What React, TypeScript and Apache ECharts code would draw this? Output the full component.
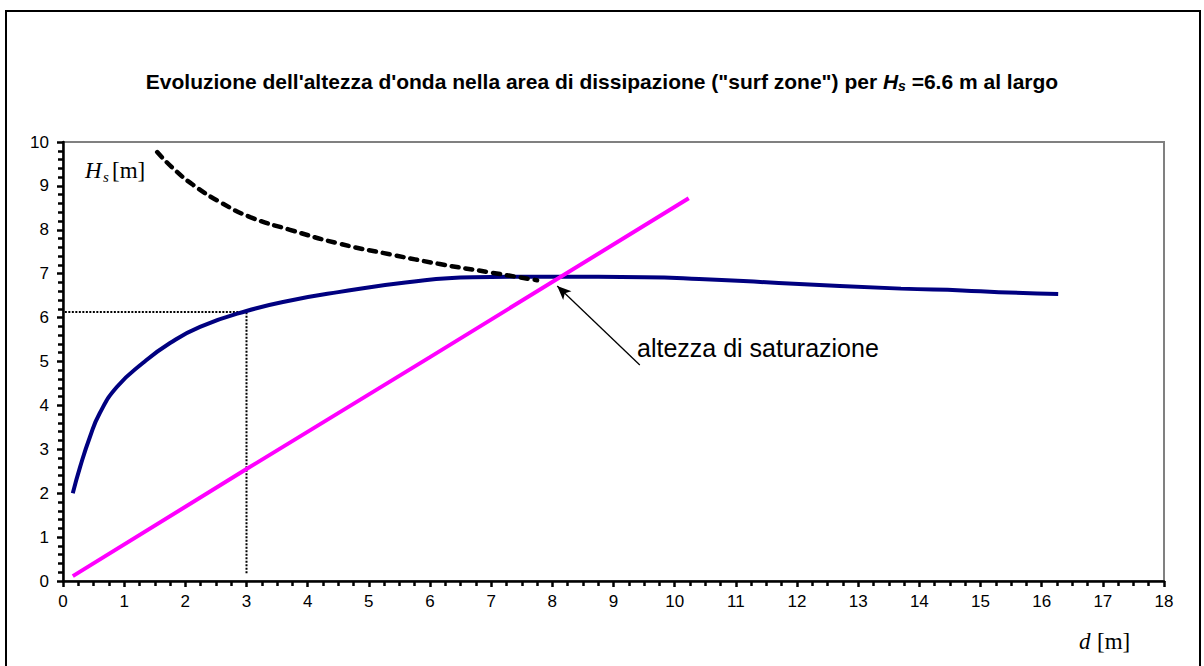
import React, { useEffect, useRef } from "react";
import * as echarts from "echarts";

// Blue curve: wave height evolution in the surf zone
const depthWave = [0.16, 0.28, 0.44, 0.6, 0.88, 1.31, 1.75, 2.24, 3.0, 3.76, 4.5, 5.6, 6.7, 8.0, 9.5, 10.4, 11.7, 13.7, 14.7, 15.3, 16.27];
const heightWave = [2.0, 2.6, 3.28, 3.82, 4.42, 4.97, 5.42, 5.79, 6.15, 6.4, 6.58, 6.8, 6.92, 6.93, 6.92, 6.88, 6.79, 6.66, 6.62, 6.58, 6.54];

// Black dashed curve
const depthDashed = [1.54, 1.8, 2.13, 2.57, 3.06, 3.71, 4.53, 5.35, 6.16, 6.98, 7.75];
const heightDashed = [9.77, 9.4, 9.02, 8.63, 8.29, 8.0, 7.68, 7.44, 7.22, 7.03, 6.85];

// Magenta line: saturation height
const depthSat = [0.16, 3.0, 6.0, 10.23];
const heightSat = [0.11, 2.55, 5.1, 8.72];

// Dotted reference lines (d = 3 m)
const depthRef = [0.03, 3.0, 3.0];
const heightRef = [6.13, 6.13, 0.16];

// Arrow pointing to saturation height
const arrowFrom = [9.43, 4.92];
const arrowTo = [8.08, 6.72];

const xTicks = { min: 0, max: 18, interval: 1 };
const yTicks = { min: 0, max: 10, interval: 1 };

const pairs = (xs: number[], ys: number[]) => xs.map((x, i) => [x, ys[i]]);

const SANS = '"Liberation Sans", Arial, sans-serif';

export default function App() {
  const ref = useRef<HTMLDivElement>(null);

  useEffect(() => {
    if (!ref.current) return;
    const chart = echarts.init(ref.current, undefined, { renderer: "svg" });
    chart.setOption({
      animation: false,
      backgroundColor: "#fff",
      title: {
        left: "center",
        top: 64,
        text: 'Evoluzione dell\'altezza d\'onda nella area di dissipazione ("surf zone") per {h|H}{s|s} =6.6 m al largo',
        textStyle: {
          fontFamily: SANS,
          fontSize: 21,
          fontWeight: "bold",
          color: "#000",
          rich: {
            h: { fontFamily: SANS, fontSize: 21, fontWeight: "bold", fontStyle: "italic", color: "#000" },
            s: { fontFamily: SANS, fontSize: 14, fontWeight: "bold", fontStyle: "italic", color: "#000", padding: [10, 0, 0, 0] },
          },
        },
      },
      grid: {
        left: 63,
        top: 142,
        right: 40,
        bottom: 85,
        show: true,
        borderColor: "#808080",
        borderWidth: 2,
        backgroundColor: "transparent",
      },
      xAxis: {
        type: "value",
        min: xTicks.min,
        max: xTicks.max,
        interval: xTicks.interval,
        axisLine: { show: true, onZero: false, lineStyle: { color: "#000", width: 2.5 } },
        axisTick: { show: true, inside: false, length: 6, lineStyle: { color: "#000", width: 2.5 } },
        minorTick: { show: true, splitNumber: 4, length: 5, lineStyle: { color: "#000", width: 2.5 } },
        splitLine: { show: false },
        axisLabel: { color: "#000", fontFamily: SANS, fontSize: 17, margin: 12 },
      },
      yAxis: {
        type: "value",
        min: yTicks.min,
        max: yTicks.max,
        interval: yTicks.interval,
        axisLine: { show: true, onZero: false, lineStyle: { color: "#000", width: 2.5 } },
        axisTick: { show: true, inside: false, length: 6, lineStyle: { color: "#000", width: 2.5 } },
        minorTick: { show: true, splitNumber: 5, length: 5, lineStyle: { color: "#000", width: 2.5 } },
        splitLine: { show: false },
        axisLabel: { color: "#000", fontFamily: SANS, fontSize: 17, margin: 14 },
      },
      series: [
        {
          type: "line",
          data: pairs(depthRef, heightRef),
          showSymbol: false,
          symbol: "none",
          lineStyle: { color: "#000", width: 2, type: [2, 1.5] },
          z: 2,
        },
        {
          type: "line",
          data: pairs(depthWave, heightWave),
          showSymbol: false,
          symbol: "none",
          smooth: 0.5,
          lineStyle: { color: "#000080", width: 4 },
          z: 3,
          markLine: {
            silent: true,
            symbol: ["none", "arrow"],
            symbolSize: [9, 14],
            label: { show: false },
            lineStyle: { color: "#000", width: 1.3, type: "solid" },
            data: [[{ coord: arrowFrom }, { coord: arrowTo }]],
          },
        },
        {
          type: "line",
          data: pairs(depthDashed, heightDashed),
          showSymbol: false,
          symbol: "none",
          smooth: 0.5,
          lineStyle: { color: "#000", width: 4.5, type: [7, 7], cap: "round" },
          z: 4,
        },
        {
          type: "line",
          data: pairs(depthSat, heightSat),
          showSymbol: false,
          symbol: "none",
          lineStyle: { color: "#FF00FF", width: 4 },
          z: 5,
        },
      ],
      graphic: [
        {
          type: "rect",
          shape: { x: 6, y: 11, width: 1194, height: 700 },
          style: { fill: "none", stroke: "#000", lineWidth: 2 },
          silent: true,
          z: 0,
        },
        {
          type: "text",
          x: 85,
          y: 170,
          style: { text: "H", font: 'italic 23px "Liberation Serif", "Times New Roman", serif', fill: "#000", textVerticalAlign: "middle", verticalAlign: "middle" },
          z: 100,
        },
        {
          type: "text",
          x: 103,
          y: 177,
          style: { text: "s", font: 'italic 15px "Liberation Serif", "Times New Roman", serif', fill: "#000", textVerticalAlign: "middle", verticalAlign: "middle" },
          z: 100,
        },
        {
          type: "text",
          x: 112,
          y: 170,
          style: { text: "[m]", font: '23px "Liberation Serif", "Times New Roman", serif', fill: "#000", textVerticalAlign: "middle", verticalAlign: "middle" },
          z: 100,
        },
        {
          type: "text",
          x: 1079,
          y: 641,
          style: { text: "d", font: 'italic 23px "Liberation Serif", "Times New Roman", serif', fill: "#000", textVerticalAlign: "middle", verticalAlign: "middle" },
          z: 100,
        },
        {
          type: "text",
          x: 1097,
          y: 641,
          style: { text: "[m]", font: '23px "Liberation Serif", "Times New Roman", serif', fill: "#000", textVerticalAlign: "middle", verticalAlign: "middle" },
          z: 100,
        },
        {
          type: "text",
          x: 637,
          y: 348,
          style: { text: "altezza di saturazione", font: '25px "Liberation Sans", Arial, sans-serif', fill: "#000", textVerticalAlign: "middle", verticalAlign: "middle" },
          z: 100,
        },
      ],
    });
    return () => chart.dispose();
  }, []);

  return (
    <div
      ref={ref}
      style={{ position: "absolute", left: 0, top: 0, width: 1204, height: 666 }}
    />
  );
}
